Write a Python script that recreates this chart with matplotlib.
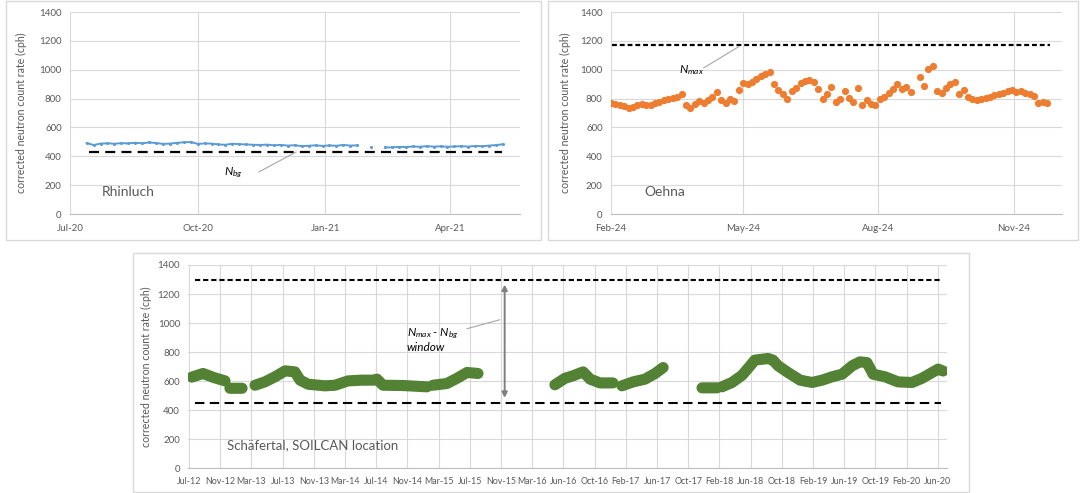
import matplotlib
matplotlib.use('Agg')
import matplotlib.pyplot as plt
import matplotlib.dates as mdates
from matplotlib.patches import Rectangle
import numpy as np
import pandas as pd

plt.rcParams['font.family'] = ['Lato', 'DejaVu Sans']
plt.rcParams['mathtext.fontset'] = 'custom'
plt.rcParams['mathtext.rm'] = 'Lato'
plt.rcParams['mathtext.it'] = 'Lato:italic'

# ---- data ----
# Rhinluch, one value every 5 days from 13 Jul 2020 (nan = no data)
rhin_start = '2020-07-13'
rhin_values = [492, 478, 488, 490, 487, 491, 489, 494, 490, 496,
               492, 486, 488, 493, 497, 499, 486, 489, 488, 482,
               480, 487, 484, 482, 480, 478, 481, 476, 479, 474,
               477, 470, 473, 476, 472, 475, 473, 479, 474, 476,
               np.nan, 466, np.nan, 461, 462, 465, 464, 468, 466, 470,
               467, 469, 466, 468, 470, 467, 472, 470, 474, 478, 483]
rhin_nbg = 430

# Oehna, one value every 3 days from 1 Feb 2024
oehna_start = '2024-02-01'
oehna_values = [770, 765, 758, 748, 738, 742, 755, 762, 758, 756,
                768, 778, 790, 798, 806, 812, 832, 752, 738, 765,
                782, 770, 792, 812, 845, 792, 772, 800, 782, 858,
                905, 902, 918, 938, 958, 972, 984, 902, 858, 832,
                800, 852, 872, 905, 922, 932, 912, 868, 800, 835,
                880, 775, 795, 850, 805, 775, 875, 755, 790, 765,
                755, 795, 810, 840, 865, 900, 868, 880, 848, np.nan,
                950, 885, 1005, 1025, 850, 840, 870, 900, 915, 835,
                860, 810, 800, 790, 795, 805, 812, 825, 835, 840,
                850, 862, 845, 850, 840, 835, 815, 770, 775, 770]
oehna_nmax = 1170

# Schaefertal, SOILCAN location (nan = gap in record)
sch_dates = ['2012-07-12', '2012-08-24', '2012-10-05', '2012-11-17', '2012-11-27',
             '2012-12-06', '2013-01-22', '2013-02-15',
             '2013-03-13', '2013-04-20', '2013-05-29', '2013-07-07', '2013-08-14',
             '2013-09-03', '2013-10-04', '2013-12-08', '2014-01-16', '2014-03-07',
             '2014-04-30', '2014-06-12', '2014-06-27', '2014-07-20', '2014-10-05',
             '2015-01-06', '2015-01-17',
             '2015-01-29', '2015-03-24', '2015-05-02', '2015-06-10', '2015-07-22',
             '2015-12-01',
             '2016-05-14', '2016-06-22', '2016-07-23', '2016-08-31', '2016-09-27',
             '2016-11-04', '2016-12-24', '2017-01-10',
             '2017-01-28', '2017-03-12', '2017-04-27', '2017-06-05', '2017-07-06',
             '2017-09-15',
             '2017-12-03', '2018-01-30', '2018-02-09',
             '2018-02-18', '2018-03-29', '2018-05-07', '2018-06-07', '2018-06-25',
             '2018-08-15', '2018-09-03', '2018-09-23', '2018-10-31', '2018-12-17',
             '2019-02-01', '2019-03-12', '2019-04-19', '2019-05-28', '2019-07-06',
             '2019-08-05', '2019-09-01', '2019-09-25', '2019-11-10', '2019-12-30',
             '2020-02-22', '2020-04-01', '2020-05-10', '2020-06-02', '2020-06-21']
sch_values = [628, 653, 625, 602, np.nan,
              551, 551, np.nan,
              572, 595, 630, 671, 664,
              607, 579, 568, 572, 602,
              607, 607, 614, 572, 570,
              561, np.nan,
              572, 584, 620, 660, 653,
              np.nan,
              575, 620, 637, 664, 614,
              588, 588, np.nan,
              568, 595, 614, 653, 694,
              np.nan,
              554, 554, np.nan,
              561, 591, 641, 706, 745,
              756, 745, 706, 660, 607,
              591, 607, 630, 648, 706,
              733, 728, 648, 630, 595,
              591, 620, 660, 683, 670]
sch_nmax = 1300
sch_nbg = 450
sch_ticklabels = ['Jul-12', 'Nov-12', 'Mar-13', 'Jul-13', 'Nov-13', 'Mar-14', 'Jul-14',
                  'Nov-14', 'Mar-15', 'Jul-15', 'Nov-15', 'Mar-16', 'Jun-16', 'Oct-16',
                  'Feb-17', 'Jun-17', 'Oct-17', 'Feb-18', 'Jun-18', 'Oct-18', 'Feb-19',
                  'Jun-19', 'Oct-19', 'Feb-20', 'Jun-20']

GREY = '#595959'
GRID = '#D9D9D9'
W, H = 1081, 493
fig = plt.figure(figsize=(W / 100, H / 100), dpi=100)


def px_axes(l, t, r, b):
    return fig.add_axes([l / W, 1 - b / H, (r - l) / W, (b - t) / H])


def frame(l, t, r, b):
    fig.patches.append(Rectangle((l / W, 1 - b / H), (r - l) / W, (b - t) / H,
                                 transform=fig.transFigure, fill=False, ec=GRID, lw=1))


def style(ax, label_x, xpad, xsize=7):
    ax.set_ylim(0, 1400)
    ax.set_yticks(range(0, 1401, 200))
    ax.grid(True, color=GRID, lw=0.8)
    ax.set_axisbelow(True)
    for s in ['top', 'right', 'left']:
        ax.spines[s].set_visible(False)
    ax.spines['bottom'].set_color('#BFBFBF')
    ax.tick_params(axis='both', length=0, labelsize=7, colors=GREY)
    ax.tick_params(axis='x', pad=xpad, labelsize=xsize)
    ax.tick_params(axis='y', pad=6)
    ax.set_ylabel('corrected neutron count rate (cph)', fontsize=7.6, color=GREY)
    ax.yaxis.set_label_coords(label_x, 0.5)


def d(s):
    return mdates.date2num(pd.Timestamp(s))


def leader(ax, a, b):
    ax.annotate('', xy=b, xytext=a,
                arrowprops=dict(arrowstyle='-', color='#A6A6A6', lw=0.8, shrinkA=0, shrinkB=0))


# ---- Rhinluch ----
frame(6, 1, 541, 240)
ax1 = px_axes(70, 12, 519.6, 214)
rhin_dates = pd.date_range(rhin_start, periods=len(rhin_values), freq='5D')
ax1.plot(rhin_dates, rhin_values, color='#5B9BD5', lw=1.4, marker='o', ms=1.2)
ax1.hlines(rhin_nbg, d('2020-07-15'), d('2021-05-08'), colors='black', lw=1.6,
           linestyles=(0, (4.5, 2.8)))
ax1.set_xlim(d('2020-07-01'), d('2021-05-21'))
ax1.set_xticks([d('2020-07-01'), d('2020-10-01'), d('2021-01-01'), d('2021-04-01')])
ax1.xaxis.set_major_formatter(mdates.DateFormatter('%b-%y'))
style(ax1, -0.095, 7)
ax1.text(d('2020-07-24'), 152, 'Rhinluch', fontsize=10, color=GREY, va='center')
ax1.text(d('2020-10-20'), 284, r'$N_{bg}$', fontsize=8.5, color='black', va='center')
leader(ax1, (d('2020-11-14'), 291), (d('2020-12-11'), 430))

# ---- Oehna ----
frame(548, 1, 1078, 240)
ax2 = px_axes(611, 12, 1062, 214)
oehna_dates = pd.date_range(oehna_start, periods=len(oehna_values), freq='3D')
ax2.plot(oehna_dates, oehna_values, 'o', color='#ED7D31', ms=5.2, mec='none')
ax2.hlines(oehna_nmax, d('2024-02-02'), d('2024-11-26'), colors='black', lw=1.6,
           linestyles=(0, (2.2, 1.3)))
ax2.set_xlim(d('2024-02-01'), d('2024-12-04'))
ax2.set_xticks([d('2024-02-01'), d('2024-05-01'), d('2024-08-01'), d('2024-11-01')])
ax2.xaxis.set_major_formatter(mdates.DateFormatter('%b-%y'))
style(ax2, -0.088, 7)
ax2.text(d('2024-02-24'), 152, 'Oehna', fontsize=10, color=GREY, va='center')
ax2.text(d('2024-03-18'), 998, r'$N_{max}$', fontsize=8.5, color='black', va='center')
leader(ax2, (d('2024-04-04'), 1012), (d('2024-04-28'), 1160))

# ---- Schaefertal ----
frame(133, 253, 969, 492)
ax3 = px_axes(188.3, 265, 946.7, 468.3)
t0 = d('2012-07-01')
ax3.plot(pd.to_datetime(sch_dates), sch_values, color='#548235', lw=8,
         solid_capstyle='round', solid_joinstyle='round')
ax3.hlines(sch_nmax, d('2012-07-24'), d('2020-06-09'), colors='black', lw=1.5,
           linestyles=(0, (2.5, 1.4)))
ax3.hlines(sch_nbg, d('2012-07-24'), d('2020-06-12'), colors='black', lw=1.5,
           linestyles=(0, (4.5, 2.6)))
ax3.set_xlim(t0 - 2.7, t0 + 2926)
ax3.set_xticks(t0 + np.arange(len(sch_ticklabels)) * 120.5)
ax3.set_xticklabels(sch_ticklabels)
style(ax3, -0.048, 6, xsize=6.4)
ax3.text(d('2012-11-23'), 156, 'Schäfertal, SOILCAN location', fontsize=9.5, color=GREY,
         va='center')
ax3.text(d('2014-10-21'), 885, '$N_{max}$ - $N_{bg}$\nwindow', fontsize=8.5,
         style='italic', color='black', va='center', linespacing=1.1)
leader(ax3, (d('2015-06-09'), 961), (d('2015-10-14'), 1023))
ax3.annotate('', xy=(d('2015-11-02'), 1265), xytext=(d('2015-11-02'), 485),
             arrowprops=dict(arrowstyle='<|-|>', color='#7F7F7F', lw=1.4,
                             mutation_scale=8, shrinkA=0, shrinkB=0))

fig.savefig('out.png', dpi=100)
